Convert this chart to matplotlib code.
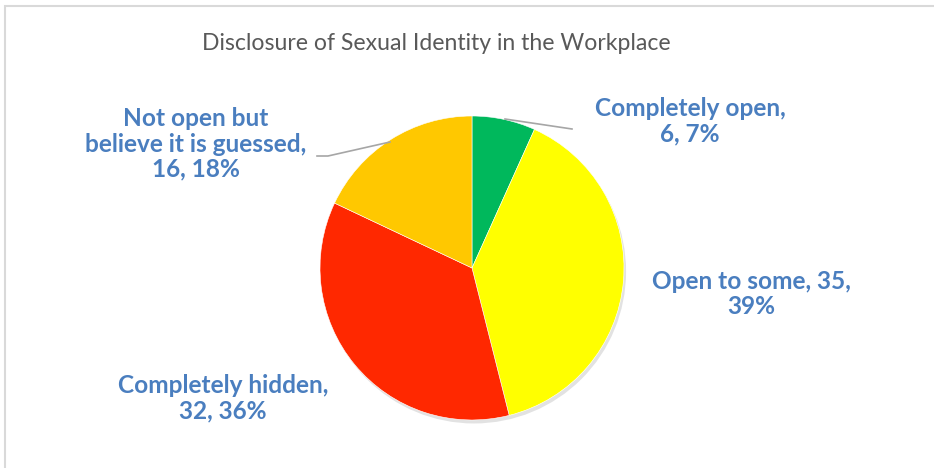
import matplotlib.pyplot as plt
import matplotlib.patheffects as pe
from matplotlib.patches import Rectangle, Circle

# data
categories = ["Completely open", "Open to some", "Completely hidden",
              "Not open but\nbelieve it is guessed"]
counts = [6, 35, 32, 16]
colors = ["#00B85C", "#FFFF00", "#FF2800", "#FFC800"]
title = "Disclosure of Sexual Identity in the Workplace"

W, H = 934, 468
LABEL_COLOR = "#4A7EBF"


def img_y(y):
    # picture rows run downward, axes y runs upward
    return H - y


def make_labels(cats, vals):
    total = sum(vals)
    out = []
    for c, v in zip(cats, vals):
        pct = round(100.0 * v / total)
        out.append((c, v, pct))
    return out


fig = plt.figure(figsize=(W / 100, H / 100), dpi=100)
ax = fig.add_axes([0, 0, 1, 1])
ax.set_xlim(0, W)
ax.set_ylim(0, H)
ax.set_aspect("equal")
ax.axis("off")

# chart frame
fig.patches.append(Rectangle((4.5 / W, -0.1), 1.1, 1.1 - 6.5 / H,
                             transform=fig.transFigure, fill=False,
                             edgecolor="#D9D9D9", linewidth=1.5))

cx, cy, r = 472, img_y(268), 152

# soft shadow under the pie
shadow = Circle((cx, cy), r, facecolor="white", edgecolor="none", zorder=1)
shadow.set_path_effects([pe.SimplePatchShadow(offset=(1.5, -2.5), shadow_rgbFace="#A0A0A0",
                                              alpha=0.3), pe.Normal()])
ax.add_patch(shadow)

wedges, _ = ax.pie(counts, colors=colors, startangle=90, counterclock=False,
                   center=(cx, cy), radius=r, frame=True,
                   wedgeprops=dict(edgecolor="white", linewidth=0.4))
for w in wedges:
    w.set_zorder(2)
ax.set_xlim(0, W)
ax.set_ylim(0, H)
ax.axis("off")

ax.text(436, img_y(44), title, ha="center", va="center", fontsize=16.6,
        color="#595959", family="Lato")

labels = make_labels(categories, counts)
label_pos = [(690, 121), (751, 294), (223, 398), (196, 144)]
for (c, v, pct), (lx, ly) in zip(labels, label_pos):
    if c == "Open to some":
        txt = "{}, {},\n{}%".format(c, v, pct)
    else:
        txt = "{},\n{}, {}%".format(c, v, pct)
    ax.text(lx, img_y(ly), txt, ha="center", va="center", fontsize=17.6,
            fontweight="bold", color=LABEL_COLOR, family="Lato",
            linespacing=1.12, zorder=5)

# leader lines
ax.plot([505, 572], [img_y(119), img_y(129)], color="#A6A6A6", lw=1.2, zorder=3)
ax.plot([390, 328, 317], [img_y(142), img_y(156), img_y(156)],
        color="#A6A6A6", lw=1.2, zorder=3)

fig.savefig("out.png", dpi=100)
